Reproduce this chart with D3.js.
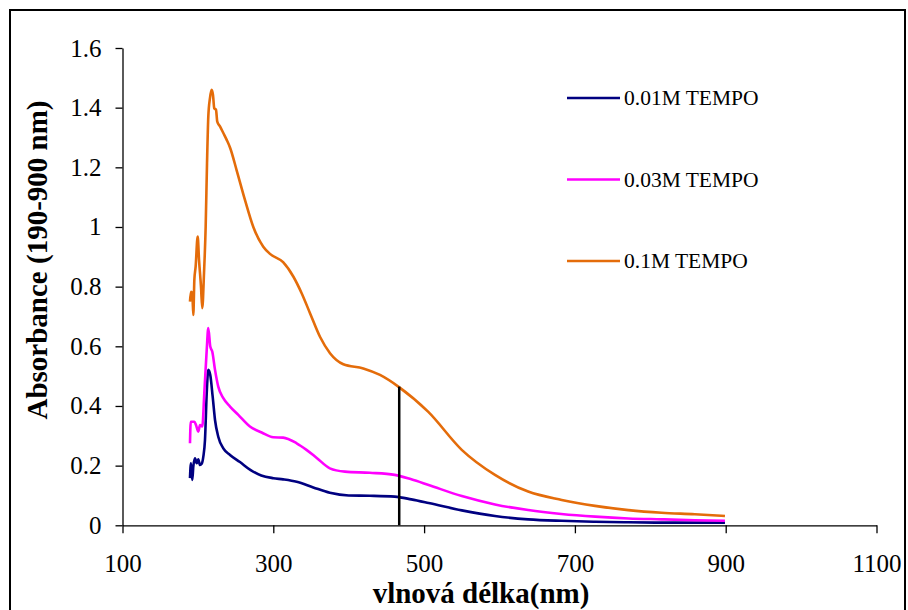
<!DOCTYPE html>
<html>
<head>
<meta charset="utf-8">
<script src="https://cdn.jsdelivr.net/npm/d3@7"></script>
<style>
  html, body { margin: 0; padding: 0; background: #fff; }
  svg { display: block; font-family: "Liberation Serif", "Times New Roman", serif; }
</style>
</head>
<body>
<div id="chart"></div>
<script>
// UV-Vis spectra, TEMPO solutions

// 0.01M TEMPO
const wl001 = [189.5, 190.8, 192.6, 193.9, 196.2, 198.4, 200.5, 202.8, 205, 207.2, 209.4, 211.7, 213.8, 216.4, 219.6, 222.7, 227, 233.7, 242.6, 255.8, 270, 284, 300, 313, 331, 353, 375, 400, 428, 461, 483, 506, 550, 594, 638, 682, 727, 771, 815, 859, 899];
const abs001 = [0.158, 0.208, 0.152, 0.197, 0.225, 0.208, 0.221, 0.202, 0.206, 0.230, 0.286, 0.443, 0.521, 0.504, 0.431, 0.353, 0.297, 0.258, 0.236, 0.212, 0.185, 0.167, 0.158, 0.154, 0.146, 0.127, 0.109, 0.100, 0.099, 0.096, 0.087, 0.075, 0.050, 0.031, 0.020, 0.015, 0.012, 0.010, 0.009, 0.009, 0.009];

// 0.03M TEMPO
const wl003 = [189.5, 190.5, 192, 195.3, 197.5, 200.5, 202.8, 205.8, 208.5, 211.7, 213.8, 216.4, 219.1, 222.7, 227, 233.7, 242.6, 253.6, 269, 284.6, 300, 313, 331, 344, 358, 375, 395, 428, 461, 483, 506, 550, 594, 638, 682, 727, 771, 815, 859, 899];
const abs003 = [0.275, 0.347, 0.347, 0.347, 0.336, 0.314, 0.336, 0.331, 0.443, 0.588, 0.661, 0.599, 0.582, 0.521, 0.465, 0.426, 0.398, 0.370, 0.331, 0.311, 0.295, 0.294, 0.275, 0.253, 0.225, 0.191, 0.180, 0.176, 0.169, 0.154, 0.135, 0.098, 0.070, 0.051, 0.038, 0.029, 0.023, 0.020, 0.017, 0.015];

// 0.1M TEMPO
const wl01 = [189.5, 190.8, 192.6, 193.9, 195.3, 197, 199.7, 201.5, 204.1, 205.8, 208.1, 210.3, 212.1, 213.8, 216, 218.3, 220, 221.7, 224, 225.7, 229.3, 233.7, 238.2, 242.8, 251.4, 262.5, 273.5, 286.7, 295.6, 313, 326.5, 337.6, 348.7, 361.9, 375.2, 392.9, 419.4, 441.5, 465.8, 505.6, 549.9, 594, 638, 682.5, 726.7, 770.8, 815, 859, 899];
const abs01 = [0.750, 0.783, 0.778, 0.705, 0.823, 0.867, 0.968, 0.890, 0.800, 0.728, 0.845, 1.001, 1.214, 1.370, 1.432, 1.460, 1.443, 1.398, 1.393, 1.353, 1.337, 1.315, 1.292, 1.265, 1.19, 1.09, 1.00, 0.934, 0.91, 0.882, 0.834, 0.778, 0.711, 0.632, 0.577, 0.540, 0.526, 0.504, 0.465, 0.38, 0.253, 0.169, 0.113, 0.085, 0.065, 0.051, 0.042, 0.037, 0.031];

const seriesNames = ['0.01M TEMPO', '0.03M TEMPO', '0.1M TEMPO'];
const seriesColors = ['#000080', '#ff00ff', '#e46c0a'];

// vertical marker line
const markerWl = 467;
const markerAbs = 0.465;

const xTicks = [100, 300, 500, 700, 900, 1100];
const yTicks = [0, 0.2, 0.4, 0.6, 0.8, 1, 1.2, 1.4, 1.6];

const width = 908, height = 610;
const plot = { left: 122.5, right: 876.5, top: 48, bottom: 525.3 };
const fontFamily = '"Liberation Serif", "Times New Roman", serif';

const svg = d3.select('#chart').append('svg')
    .attr('width', width)
    .attr('height', height);

// outer chart border
svg.append('rect')
    .attr('x', 10).attr('y', 10)
    .attr('width', 895).attr('height', 640)
    .attr('fill', 'none')
    .attr('stroke', '#000')
    .attr('stroke-width', 2);

const x = d3.scaleLinear().domain([100, 1100]).range([plot.left, plot.right]);
const y = d3.scaleLinear().domain([0, 1.6]).range([plot.bottom, plot.top]);

// axes
const yAxis = svg.append('g')
    .attr('transform', `translate(${plot.left},0)`)
    .call(d3.axisLeft(y).tickValues(yTicks).tickSize(7).tickSizeOuter(0).tickPadding(14)
        .tickFormat(d => String(+d.toFixed(1))));

const xAxis = svg.append('g')
    .attr('transform', `translate(0,${plot.bottom})`)
    .call(d3.axisBottom(x).tickValues(xTicks).tickSize(8).tickSizeOuter(0).tickPadding(21)
        .tickFormat(d3.format('d')));

[yAxis, xAxis].forEach(g => {
    g.select('.domain').attr('stroke', '#000').attr('stroke-width', 1.3);
    g.selectAll('.tick line').attr('stroke', '#000').attr('stroke-width', 1.3);
    g.selectAll('.tick text')
        .attr('fill', '#000')
        .style('font-family', fontFamily)
        .style('font-size', '25px');
});

// series
const line = d3.line()
    .curve(d3.curveMonotoneX)
    .x(d => x(d[0]))
    .y(d => y(d[1]));

const seriesData = [
    d3.zip(wl001, abs001),
    d3.zip(wl003, abs003),
    d3.zip(wl01, abs01)
];

svg.append('g')
    .selectAll('path')
    .data(seriesData)
    .enter()
    .append('path')
    .attr('d', line)
    .attr('fill', 'none')
    .attr('stroke', (d, i) => seriesColors[i])
    .attr('stroke-width', 2.6)
    .attr('stroke-linejoin', 'round');

// marker line
svg.append('line')
    .attr('x1', x(markerWl)).attr('x2', x(markerWl))
    .attr('y1', y(0)).attr('y2', y(markerAbs))
    .attr('stroke', '#000')
    .attr('stroke-width', 2.5);

// legend
const legend = svg.append('g')
    .selectAll('g')
    .data(seriesNames)
    .enter()
    .append('g')
    .attr('transform', (d, i) => `translate(567,${98 + i * 81.5})`);

legend.append('line')
    .attr('x1', 0).attr('x2', 53)
    .attr('stroke', (d, i) => seriesColors[i])
    .attr('stroke-width', 2.5);

legend.append('text')
    .attr('x', 57)
    .attr('y', 7)
    .style('font-size', '21.5px')
    .text(d => d);

// axis titles
svg.append('text')
    .attr('transform', 'translate(47,260) rotate(-90)')
    .attr('text-anchor', 'middle')
    .style('font-size', '29px')
    .style('font-weight', 'bold')
    .text('Absorbance (190-900 nm)');

svg.append('text')
    .attr('x', 481)
    .attr('y', 603)
    .attr('text-anchor', 'middle')
    .style('font-size', '29px')
    .style('font-weight', 'bold')
    .text('vlnová délka(nm)');
</script>
</body>
</html>
